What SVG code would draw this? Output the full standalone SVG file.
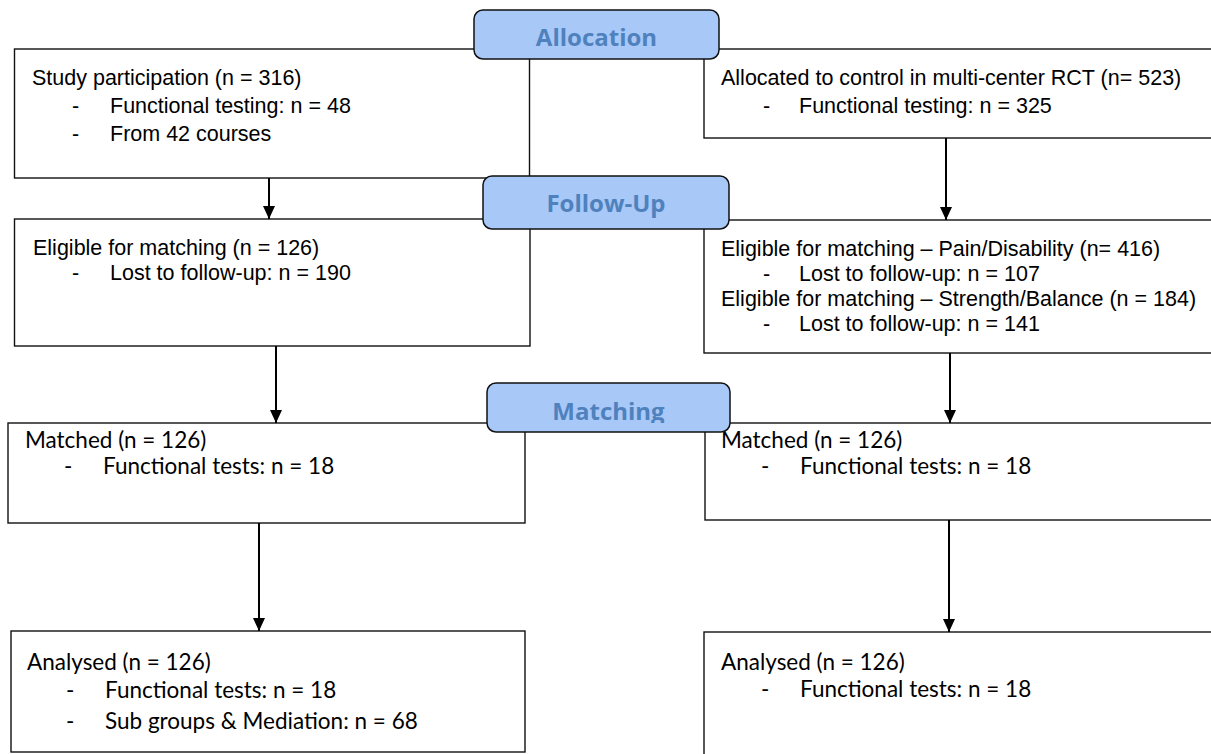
<svg xmlns="http://www.w3.org/2000/svg" width="1211" height="754" viewBox="0 0 1211 754">
<style>
.box{fill:none;stroke:#111;stroke-width:1.4}
.pill{fill:#a8c8f8;stroke:#111;stroke-width:1.5}
.pt{font-family:"Open Sans","Liberation Sans",sans-serif;font-weight:700;font-size:24px;fill:#4f81bd;text-anchor:middle}
.a{font-family:"Liberation Sans",Arial,sans-serif;font-size:21.5px;fill:#000}
.c{font-family:Lato,"Open Sans",sans-serif;font-size:22.5px;fill:#000}
.conn line{stroke:#000;stroke-width:2}
</style>
<defs>
<marker id="ah" viewBox="0 0 13 12" refX="13" refY="6" markerWidth="13" markerHeight="12" markerUnits="userSpaceOnUse" orient="auto">
<path d="M0,0 L13,6 L0,12 z" fill="#000"/>
</marker>
<clipPath id="mclip"><rect x="480" y="380" width="260" height="43"/></clipPath>
</defs>
<rect width="1211" height="754" fill="#fff"/>

<g id="participation">
<rect class="box" x="14.5" y="49" width="515" height="129"/>
<text class="a" x="32" y="85">Study participation (n = 316)</text>
<text class="a" x="72" y="113">-</text><text class="a" x="110" y="113">Functional testing: n = 48</text>
<text class="a" x="72" y="141">-</text><text class="a" x="110" y="141">From 42 courses</text>
</g>
<g id="control">
<rect class="box" x="704" y="49" width="515" height="89"/>
<text class="a" x="721" y="85">Allocated to control in multi-center RCT (n= 523)</text>
<text class="a" x="763" y="113">-</text><text class="a" x="799" y="113">Functional testing: n = 325</text>
</g>
<g id="eligible-left">
<rect class="box" x="14.5" y="219" width="515.5" height="127"/>
<text class="a" x="33" y="255">Eligible for matching (n = 126)</text>
<text class="a" x="72" y="280">-</text><text class="a" x="110" y="280">Lost to follow-up: n = 190</text>
</g>
<g id="eligible-right">
<rect class="box" x="704" y="220" width="515" height="133"/>
<text class="a" x="721" y="256">Eligible for matching – Pain/Disability (n= 416)</text>
<text class="a" x="763" y="281">-</text><text class="a" x="799" y="281">Lost to follow-up: n = 107</text>
<text class="a" x="721" y="306">Eligible for matching – Strength/Balance (n = 184)</text>
<text class="a" x="763" y="331">-</text><text class="a" x="799" y="331">Lost to follow-up: n = 141</text>
</g>
<g id="matched-left">
<rect class="box" x="8" y="423" width="517" height="100"/>
<text class="c" x="25" y="448">Matched (n = 126)</text>
<text class="c" x="64" y="474">-</text><text class="c" x="103" y="474">Functional tests: n = 18</text>
</g>
<g id="matched-right">
<rect class="box" x="705" y="423" width="515" height="97"/>
<text class="c" x="721" y="448">Matched (n = 126)</text>
<text class="c" x="761" y="474">-</text><text class="c" x="800" y="474">Functional tests: n = 18</text>
</g>
<g id="analysed-left">
<rect class="box" x="11" y="631" width="514" height="121"/>
<text class="c" x="27" y="670">Analysed (n = 126)</text>
<text class="c" x="66" y="698">-</text><text class="c" x="105" y="698">Functional tests: n = 18</text>
<text class="c" x="66" y="729">-</text><text class="c" x="105" y="729">Sub groups &amp; Mediation: n = 68</text>
</g>
<g id="analysed-right">
<rect class="box" x="704" y="632" width="515" height="130"/>
<text class="c" x="721" y="670">Analysed (n = 126)</text>
<text class="c" x="761" y="697">-</text><text class="c" x="800" y="697">Functional tests: n = 18</text>
</g>

<g id="connectors" class="conn">
<line x1="269" y1="178" x2="269" y2="219" marker-end="url(#ah)"/>
<line x1="946" y1="138" x2="946" y2="220" marker-end="url(#ah)"/>
<line x1="276" y1="346" x2="276" y2="423" marker-end="url(#ah)"/>
<line x1="950" y1="353" x2="950" y2="423" marker-end="url(#ah)"/>
<line x1="259" y1="523" x2="259" y2="631" marker-end="url(#ah)"/>
<line x1="949" y1="520" x2="949" y2="632" marker-end="url(#ah)"/>
</g>

<g id="allocation">
<rect class="pill" x="474" y="10" width="245" height="49" rx="9"/>
<text class="pt" x="596.5" y="46">Allocation</text>
</g>
<g id="follow-up">
<rect class="pill" x="483" y="176" width="246" height="53" rx="9"/>
<text class="pt" x="606" y="212">Follow-Up</text>
</g>
<g id="matching">
<rect class="pill" x="487" y="383" width="243" height="49" rx="9"/>
<text class="pt" x="608.5" y="420" clip-path="url(#mclip)">Matching</text>
</g>
</svg>
